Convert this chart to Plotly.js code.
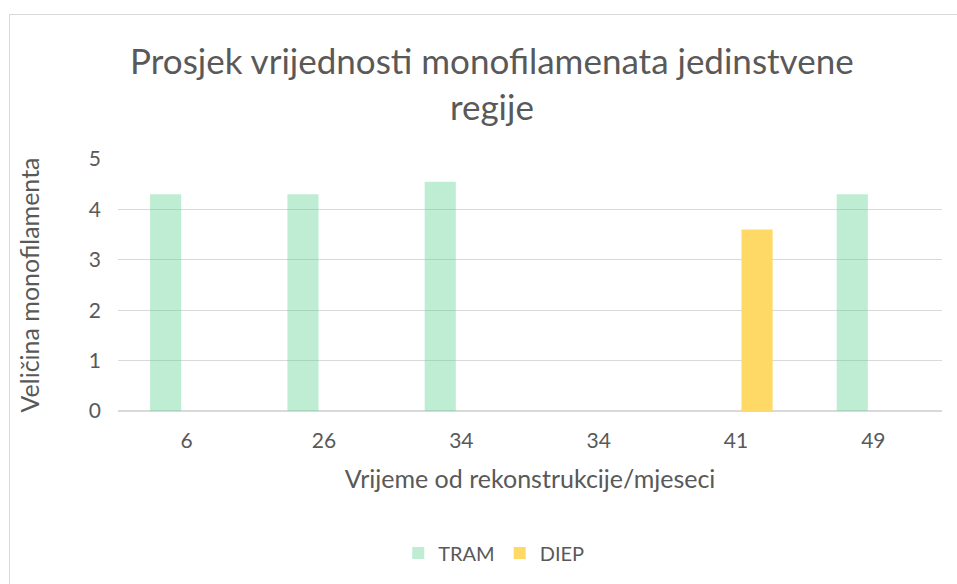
<!DOCTYPE html>
<html>
<head>
<meta charset="utf-8">
<script src="https://cdn.plot.ly/plotly-3.0.1.min.js"></script>
<style>
  html, body { margin: 0; padding: 0; background: #fff; overflow: hidden; }
  #wrap { position: relative; width: 957px; height: 584px; overflow: hidden; }
  #frame { position: absolute; left: 9px; top: 14px; width: 980px; height: 600px;
           border: 1px solid #d9d9d9; box-sizing: border-box; }
  #chart { position: absolute; left: 0; top: 0; width: 957px; height: 584px; }
</style>
</head>
<body>
<div id="wrap">
  <div id="frame"></div>
  <div id="chart"></div>
</div>
<script>
// Months since reconstruction (category labels; 34 appears twice)
const categories = ["6", "26", "34", "34", "41", "49"];
// Average monofilament values per patient
const tramValues = [4.3, 4.3, 4.55, 0, 0, 4.3];
const diepValues = [0, 0, 0, 0, 3.6, 0];
const yTicks = [0, 1, 2, 3, 4, 5];

const positions = categories.map((_, i) => i);

const FONT = "Lato, 'Open Sans', sans-serif";
const TXT = "#595959";

const traces = [
  {
    type: "bar", name: "TRAM", x: positions, y: tramValues,
    marker: { color: "rgba(95,211,148,0.4)" }
  },
  {
    type: "bar", name: "DIEP", x: positions, y: diepValues,
    marker: { color: "#ffd966" }
  }
];

const layout = {
  width: 957, height: 584,
  paper_bgcolor: "rgba(0,0,0,0)",
  plot_bgcolor: "rgba(0,0,0,0)",
  margin: { l: 118, r: 15, t: 159, b: 173 },
  font: { family: FONT, color: TXT },
  title: {
    text: "Prosjek vrijednosti monofilamenata jedinstvene<br>regije",
    font: { family: FONT, size: 35, color: TXT },
    xref: "container", x: 0.514, xanchor: "center",
    yref: "container", y: 1 - 74 / 584, yanchor: "top"
  },
  barmode: "group",
  bargap: 0.387,
  bargroupgap: 0.26,
  showlegend: true,
  legend: {
    orientation: "h", x: 0.456, xanchor: "center",
    y: -0.563, yanchor: "middle",
    font: { family: FONT, size: 20, color: TXT },
    itemwidth: 30, traceorder: "normal"
  },
  xaxis: {
    type: "linear",
    range: [-0.5, categories.length - 0.5],
    tickmode: "array", tickvals: positions, ticktext: categories,
    tickfont: { family: FONT, size: 21, color: TXT },
    ticks: "", ticklabelstandoff: 15,
    showgrid: false, zeroline: false,
    showline: false,
    title: { text: "Vrijeme od rekonstrukcije/mjeseci",
             font: { family: FONT, size: 25, color: TXT }, standoff: 19 }
  },
  yaxis: {
    range: [0, 5], tickmode: "array", tickvals: yTicks,
    tickfont: { family: FONT, size: 21, color: TXT },
    ticks: "", ticklabelstandoff: 16,
    showgrid: true, gridcolor: "#d9d9d9", gridwidth: 1.3,
    zeroline: true, zerolinecolor: "#d9d9d9", zerolinewidth: 1.3,
    showline: false,
    title: { text: "Veličina monofilamenta",
             font: { family: FONT, size: 25, color: TXT }, standoff: 42 }
  }
};

Plotly.newPlot("chart", traces, layout, { displayModeBar: false, staticPlot: true });
</script>
</body>
</html>
